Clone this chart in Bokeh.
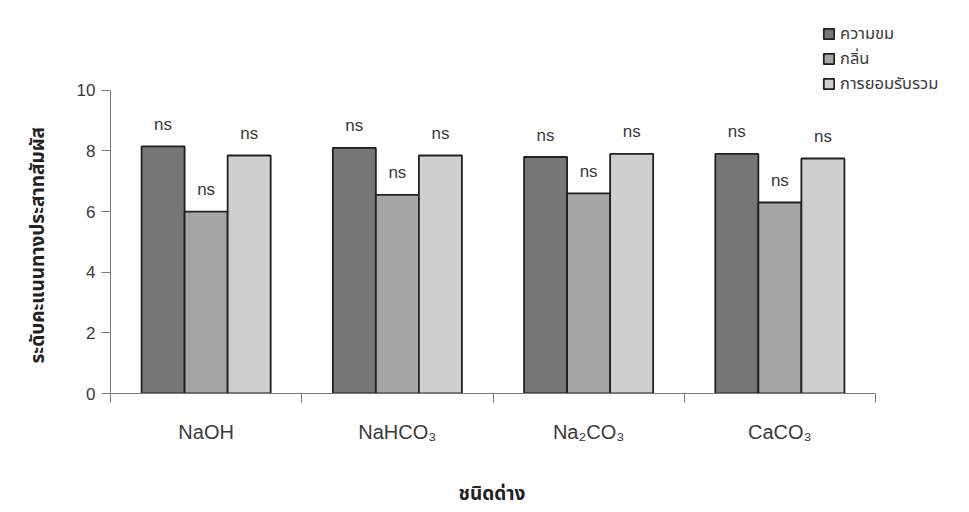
import numpy as np
from bokeh.plotting import figure
from bokeh.models import (Range1d, FixedTicker, LinearAxis, ColumnDataSource,
                          Legend, LegendItem, Title)
from bokeh.transform import dodge
from bokeh.core.properties import value
from bokeh.embed import file_html
from bokeh.resources import INLINE

# ---- data ----
categories = ["NaOH", "NaHCO₃", "Na₂CO₃", "CaCO₃"]
series_names = ["ความขม", "กลิ่น", "การยอมรับรวม"]
bitterness = [8.15, 8.1, 7.8, 7.9]
odor = [6.0, 6.55, 6.6, 6.3]
overall = [7.85, 7.85, 7.9, 7.75]
sig_bitterness = ["ns", "ns", "ns", "ns"]
sig_odor = ["ns", "ns", "ns", "ns"]
sig_overall = ["ns", "ns", "ns", "ns"]
y_ticks = [0, 2, 4, 6, 8, 10]
x_title = "ชนิดด่าง"
y_title = "ระดับคะแนนทางประสาทสัมผัส"

# ---- styling ----
colors = ["#767676", "#a6a6a6", "#cfcfcf"]
THAI = "Noto Sans Thai, Noto Sans, Loma, sans-serif"
LATIN = "Liberation Sans"
TXT = "#3a3a3a"

n = len(categories)
centers = list(np.arange(n) + 0.5)
src = ColumnDataSource(dict(x=centers, a=bitterness, b=odor, c=overall,
                            sa=sig_bitterness, sb=sig_odor, sc=sig_overall))

W, H = 960, 510
top_px, bottom_px, left_px, right_px = 12, 116, 110, 5
unit_px = 30.4      # pixels per score unit
cat_px = 191.25     # pixels per category
y_max = (H - top_px - bottom_px) / unit_px
x_max = (W - left_px - right_px) / cat_px

p = figure(width=W, height=H, x_range=Range1d(0, x_max), y_range=Range1d(0, y_max),
           output_backend="svg", toolbar_location=None,
           min_border_left=left_px, min_border_right=right_px, min_border_top=top_px,
           min_border_bottom=bottom_px)
p.outline_line_color = None
p.xgrid.visible = False
p.ygrid.visible = False
p.background_fill_color = "white"
p.border_fill_color = "white"

bw = 0.225
offs = [-bw, 0.0, bw]
renderers = []
for col, off, colr in zip(["a", "b", "c"], offs, colors):
    r = p.vbar(x=dodge("x", off, range=p.x_range), top=col, width=bw, bottom=0,
               source=src, fill_color=colr, line_color="#202020", line_width=1.8)
    renderers.append(r)

for col, top, off in zip(["sa", "sb", "sc"], ["a", "b", "c"], offs):
    p.text(x=dodge("x", off, range=p.x_range), y=top, text=col, source=src,
           text_font=value(LATIN), text_font_size="17px", text_color=TXT,
           text_align="center", text_baseline="alphabetic", y_offset=-22)

# x axis with boundary ticks
xa = p.xaxis[0]
xa.ticker = FixedTicker(ticks=list(range(n + 1)))
xa.bounds = (0, n)
xa.major_label_overrides = {i: "" for i in range(n + 1)}
xa.major_label_standoff = 0
xa.major_label_text_font_size = "1px"
xa.major_tick_out = 9
xa.major_tick_in = 0
xa.minor_tick_line_color = None
xa.axis_line_color = "#7a7a7a"
xa.major_tick_line_color = "#7a7a7a"

# category label axis
xa2 = LinearAxis(ticker=FixedTicker(ticks=centers),
                 major_label_overrides={c: lab for c, lab in zip(centers, categories)})
xa2.axis_line_color = None
xa2.major_tick_line_color = None
xa2.minor_tick_line_color = None
xa2.major_label_standoff = 12
xa2.major_label_text_font = "Liberation Sans Narrow, Liberation Sans"
xa2.major_label_text_font_size = "20px"
xa2.major_label_text_color = TXT
xa2.axis_label = " "
xa2.axis_label_text_font_size = "1px"
xa2.axis_label_standoff = 30
p.add_layout(xa2, "below")

# x-axis title, centred under the category axis
xt = Title(text=x_title, align="left", offset=348, standoff=0, vertical_align="top",
           text_font=THAI, text_font_style="bold", text_font_size="19px",
           text_color="#222222")
p.add_layout(xt, "below")

# y axis
ya = p.yaxis[0]
ya.ticker = FixedTicker(ticks=y_ticks)
ya.bounds = (0, 10)
ya.major_tick_out = 9
ya.major_tick_in = 0
ya.minor_tick_line_color = None
ya.axis_line_color = "#7a7a7a"
ya.major_tick_line_color = "#7a7a7a"
ya.major_label_text_font = LATIN
ya.major_label_text_font_size = "17px"
ya.major_label_text_color = TXT
ya.major_label_standoff = 6

# y-axis title, centred along the 0-10 axis
yt = Title(text=y_title, align="left", offset=30, standoff=42,
           text_font=THAI, text_font_style="bold", text_font_size="19px",
           text_color="#222222")
p.add_layout(yt, "left")

legend = Legend(items=[LegendItem(label=s, renderers=[r]) for s, r in zip(series_names, renderers)],
                location=(712, 297), orientation="vertical")
legend.background_fill_alpha = 0
legend.border_line_color = None
legend.padding = 0
legend.margin = 0
legend.spacing = 0
legend.glyph_height = 13
legend.glyph_width = 13
legend.label_height = 20
legend.label_standoff = 5
legend.label_text_font = THAI
legend.label_text_font_size = "16.5px"
legend.label_text_color = TXT
p.add_layout(legend, "center")

open("out.html", "w").write(file_html(p, INLINE))
